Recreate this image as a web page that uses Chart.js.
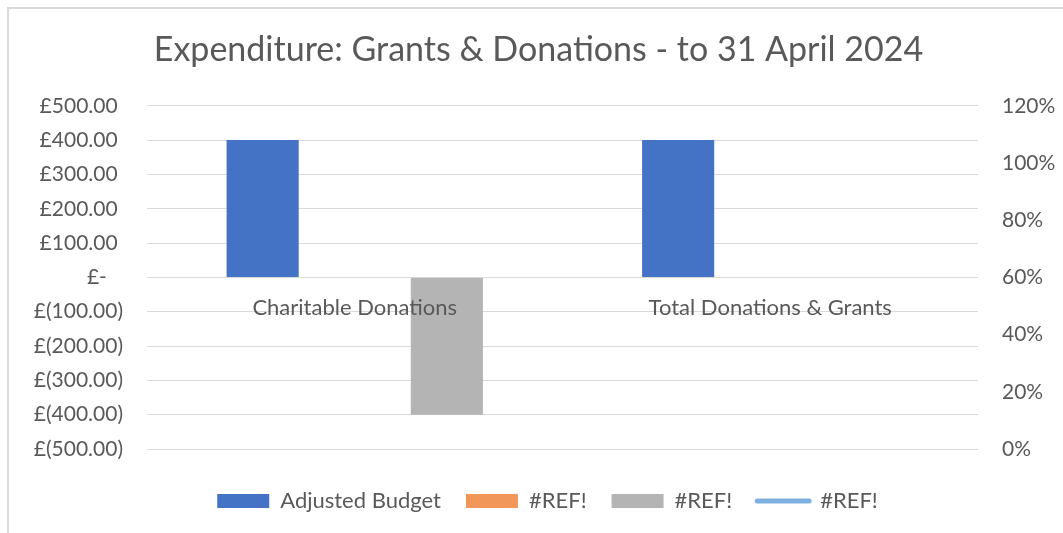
<!DOCTYPE html>
<html>
<head>
<meta charset="utf-8">
<script src="https://cdn.jsdelivr.net/npm/chart.js@4/dist/chart.umd.min.js"></script>
<style>
  html, body { margin: 0; padding: 0; background: #ffffff; }
  #wrap { position: relative; width: 1063px; height: 533px; }
</style>
</head>
<body>
<div id="wrap"><canvas id="c" width="1063" height="533"></canvas></div>
<script>
// ---- Data ----
const categories = ['Charitable Donations', 'Total Donations & Grants'];
const adjustedBudget = [400, 400];
const refOrange = [null, null];
const refGray = [-400, 0];
const refLine = [null, null];
const leftTicks = [-500, -400, -300, -200, -100, 0, 100, 200, 300, 400, 500];
const rightTicks = [0, 0.2, 0.4, 0.6, 0.8, 1.0, 1.2];
const titleText = 'Expenditure: Grants & Donations - to 31 April 2024';

const FONT = 'Lato, "Open Sans", "DejaVu Sans", sans-serif';
const TEXT = '#595959';
const GRID = '#d9d9d9';

function gbp(v) {
  if (v === 0) return '£-   ';
  const s = Math.abs(v).toFixed(2);
  return v < 0 ? '£(' + s + ')' : '£' + s + ' ';
}

const framePlugin = {
  id: 'frameBorder',
  beforeDraw(chart) {
    const ctx = chart.ctx;
    ctx.save();
    ctx.fillStyle = '#ffffff';
    ctx.fillRect(0, 0, chart.width, chart.height);
    ctx.strokeStyle = GRID;
    ctx.lineWidth = 2;
    ctx.beginPath();
    ctx.moveTo(8, chart.height);
    ctx.lineTo(8, 8);
    ctx.lineTo(chart.width, 8);
    ctx.stroke();
    ctx.restore();
  },
  afterLayout(chart) {
    // nudge legend block to the right, like the original
    if (chart.legend) { chart.legend.left += 9; chart.legend.right += 9; }
  }
};

new Chart(document.getElementById('c'), {
  type: 'bar',
  data: {
    labels: categories,
    datasets: [
      { label: 'Adjusted Budget', data: adjustedBudget, backgroundColor: '#4472C4', yAxisID: 'y', order: 1 },
      { label: '#REF!', data: refOrange, backgroundColor: '#F1975A', yAxisID: 'y', order: 1 },
      { label: '#REF!', data: refGray, backgroundColor: '#B4B4B4', yAxisID: 'y', order: 1 },
      { type: 'line', label: '#REF!', data: refLine, borderColor: '#7EB0E0', backgroundColor: '#7EB0E0', borderWidth: 5, yAxisID: 'y1', pointRadius: 0, order: 0 }
    ]
  },
  options: {
    responsive: false,
    animation: false,
    devicePixelRatio: 1,
    barPercentage: 0.783,
    categoryPercentage: 0.665,
    layout: { padding: { left: 14, right: 0, top: 0, bottom: 11 } },
    plugins: {
      title: {
        display: true,
        text: titleText,
        color: TEXT,
        font: { family: FONT, size: 34, weight: 'normal' },
        padding: { top: 30, bottom: 35 }
      },
      legend: {
        position: 'bottom',
        title: { display: true, text: '', padding: { top: 0, bottom: 4 }, font: { size: 10 } },
        labels: {
          usePointStyle: true,
          pointStyleWidth: 52,
          boxHeight: 14,
          padding: 25,
          color: TEXT,
          font: { family: FONT, size: 22 },
          generateLabels(chart) {
            return chart.data.datasets.map((ds, i) => ({
              text: ds.label,
              fillStyle: ds.backgroundColor,
              strokeStyle: ds.type === 'line' ? ds.borderColor : ds.backgroundColor,
              lineWidth: ds.type === 'line' ? 5 : 0,
              lineCap: 'round',
              pointStyle: ds.type === 'line' ? 'line' : 'rect',
              fontColor: TEXT,
              hidden: false,
              datasetIndex: i
            }));
          }
        }
      },
      tooltip: { enabled: false }
    },
    scales: {
      x: {
        type: 'category',
        position: { y: 0 },
        grid: { display: false },
        border: { display: false },
        ticks: { z: 1, color: TEXT, font: { family: FONT, size: 22 }, padding: 9, maxRotation: 0, autoSkip: false }
      },
      y: {
        position: 'left',
        min: -500, max: 500,
        afterFit(scale) { scale.width = 133; },
        afterBuildTicks(scale) { scale.ticks = leftTicks.map(v => ({ value: v })); },
        grid: { color: GRID, lineWidth: 1, drawTicks: false },
        border: { display: false },
        ticks: { color: TEXT, font: { family: FONT, size: 21 }, padding: 24, callback: v => gbp(v) }
      },
      y1: {
        position: 'right',
        min: 0, max: 1.2,
        afterFit(scale) { scale.width = 85; },
        afterBuildTicks(scale) { scale.ticks = rightTicks.map(v => ({ value: v })); },
        grid: { display: false, drawTicks: false },
        border: { display: false },
        ticks: { color: TEXT, font: { family: FONT, size: 21 }, padding: 24, callback: v => Math.round(v * 100) + '%' }
      }
    }
  },
  plugins: [framePlugin]
});
</script>
</body>
</html>
